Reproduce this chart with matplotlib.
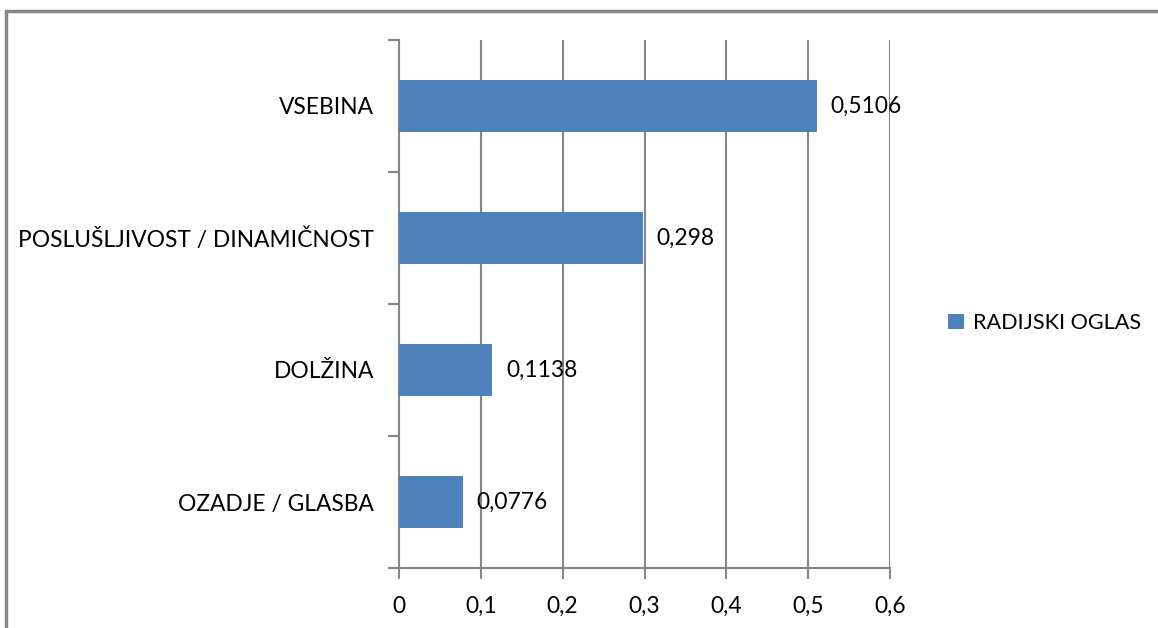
import matplotlib.pyplot as plt
from matplotlib.patches import Rectangle

# podatki
kategorije = ["OZADJE / GLASBA", "DOLŽINA", "POSLUŠLJIVOST / DINAMIČNOST", "VSEBINA"]
vrednosti = [0.0776, 0.1138, 0.298, 0.5106]
oznake = ["0,0776", "0,1138", "0,298", "0,5106"]
x_ticki = [0, 0.1, 0.2, 0.3, 0.4, 0.5, 0.6]
x_oznake = ["0", "0,1", "0,2", "0,3", "0,4", "0,5", "0,6"]
serija = "RADIJSKI OGLAS"

plt.rcParams['font.family'] = ['Lato', 'DejaVu Sans']
siva = "#868686"
modra = "#4F81BD"
fs = 16.4

fig = plt.figure(figsize=(11.58, 6.28), dpi=100)
# okvir okoli grafa
fig.patches.append(Rectangle((6 / 1158, -0.1), 1.2, 1 - 11 / 628 + 0.1,
                             transform=fig.transFigure, fill=False,
                             edgecolor=siva, linewidth=2.5))

ax = fig.add_axes([399 / 1158, 1 - 568 / 628, 491 / 1158, 528 / 628])
y = range(len(kategorije))
ax.barh(y, vrednosti, height=0.4, color=modra, zorder=3, label=serija)
for yi, v, t in zip(y, vrednosti, oznake):
    ax.text(v + 0.017, yi, t, va='center', ha='left', fontsize=fs, zorder=4)

ax.set_xlim(0, 0.6)
ax.set_ylim(-0.5, len(kategorije) - 0.5)
ax.set_xticks(x_ticki)
ax.set_xticklabels(x_oznake, fontsize=fs)
ax.set_yticks([i - 0.5 for i in range(len(kategorije) + 1)])
ax.set_yticklabels([])
ax.set_yticks(list(y), minor=True)
ax.set_yticklabels(kategorije, minor=True, fontsize=fs)
ax.tick_params(axis='y', which='minor', length=0, pad=18)
ax.tick_params(axis='y', which='major', length=8, width=1.5, color=siva)
ax.tick_params(axis='x', length=8, width=1.5, color=siva, pad=12)
ax.xaxis.grid(True, color=siva, linewidth=1.5, zorder=0)
for s in ['top', 'right']:
    ax.spines[s].set_visible(False)
for s in ['left', 'bottom']:
    ax.spines[s].set_color(siva)
    ax.spines[s].set_linewidth(1.5)

fig.legend(loc='center left', bbox_to_anchor=(948 / 1158, 1 - 323 / 628),
           frameon=False, fontsize=15.6, handlelength=0.75, handleheight=0.75,
           handletextpad=0.4, borderpad=0, borderaxespad=0)

fig.savefig("out.png", dpi=100)
